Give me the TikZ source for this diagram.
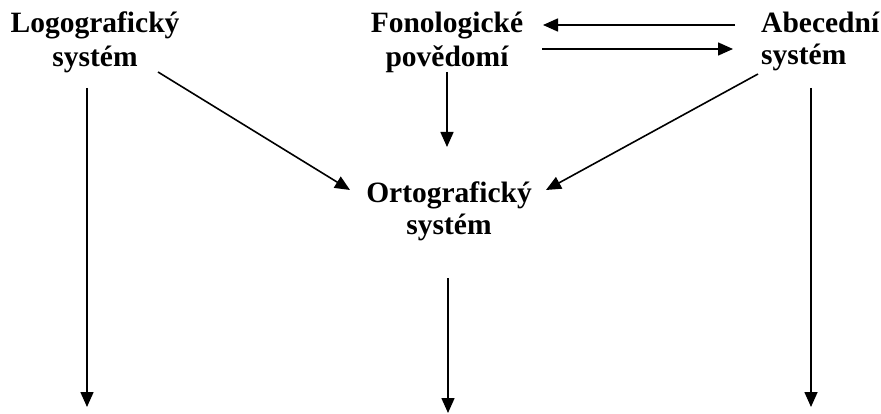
\documentclass[tikz,border=0pt]{standalone}
\usepackage{fontspec}
\setmainfont{Liberation Serif}
\usetikzlibrary{arrows.meta}
\tikzset{
  lbl/.style={inner sep=0pt, anchor=base},
  bigA/.style={font=\fontsize{29.5}{34}\selectfont\bfseries},
  bigB/.style={font=\fontsize{29.5}{32}\selectfont\bfseries},
  arr/.style={line width=1.6pt, -{Triangle[length=15pt,width=13pt]}},
}
\begin{document}
\begin{tikzpicture}[x=1pt,y=-1pt]
\useasboundingbox (0,0) rectangle (881,414);
\node[lbl,bigA] (log) at (95,33) {\begin{tabular}[t]{@{}c@{}}Logografický\\systém\end{tabular}};
\node[lbl,bigA] (fon) at (447,33) {\begin{tabular}[t]{@{}c@{}}Fonologické\\povědomí\end{tabular}};
\node[lbl,bigB,anchor=base west] (abc) at (761,33) {\begin{tabular}[t]{@{}l@{}}Abecední\\systém\end{tabular}};
\node[lbl,bigB] (ort) at (449,203) {\begin{tabular}[t]{@{}c@{}}Ortografický\\systém\end{tabular}};
% connector ends
\coordinate (logD) at (87,88);
\coordinate (logE) at (87,407);
\coordinate (logR) at (158,72);
\coordinate (ortL) at (350,190);
\coordinate (fonD) at (447,72);
\coordinate (ortT) at (447,147);
\coordinate (ortD) at (448,278);
\coordinate (ortE) at (448,413);
\coordinate (abcL) at (758,74);
\coordinate (ortR) at (546,190);
\coordinate (abcD) at (811,88);
\coordinate (abcE) at (811,407);
\coordinate (abcW1) at (735,25);
\coordinate (fonE1) at (543,25);
\coordinate (fonE2) at (542,49);
\coordinate (abcW2) at (733,49);
\draw[arr] (logD) -- (logE);
\draw[arr] (logR) -- (ortL);
\draw[arr] (fonD) -- (ortT);
\draw[arr] (ortD) -- (ortE);
\draw[arr] (abcL) -- (ortR);
\draw[arr] (abcD) -- (abcE);
\draw[arr] (abcW1) -- (fonE1);
\draw[arr] (fonE2) -- (abcW2);
\end{tikzpicture}
\end{document}
